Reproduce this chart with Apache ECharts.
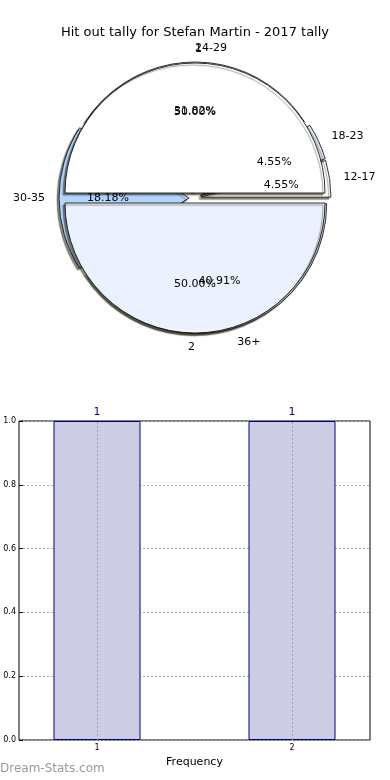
<!DOCTYPE html>
<html>
<head>
<meta charset="utf-8">
<script src="https://cdn.jsdelivr.net/npm/echarts@6/dist/echarts.min.js"></script>
<style>
html,body{margin:0;padding:0;background:#fff;}
#c{width:390px;height:780px;}
</style>
</head>
<body>
<div id="c"></div>
<script>
// ---- data ----
const titleText = 'Hit out tally for Stefan Martin - 2017 tally';
const freqNames = ['1', '2'];
const freqValues = [1, 1];
const ageNames = ['12-17', '18-23', '24-29', '30-35', '36+'];
const ageValues = [1, 1, 7, 4, 9];
const barX = [1, 2];
const barValues = [1, 1];
const yTicks = [0, 0.2, 0.4, 0.6, 0.8, 1.0];
const xTicks = [1, 2];

// ---- styles ----
const freqColors = ['#ffffff', '#ebf1ff'];
const ageColors = ['#ffffff', '#dde6fb', '#ffffff', '#b3d4ff', '#dfe8fa'];
const FONT = 'DejaVu Sans';
const R = 130;
const CENTER = [195, 198];

function pieData(names, values, colors) {
  return names.map((n, i) => ({
    name: n, value: values[i], selected: true,
    itemStyle: colors ? { color: colors[i] } : undefined
  }));
}
const total = arr => arr.reduce((a, b) => a + b, 0);

const baseItem = {
  borderColor: '#000', borderWidth: 0.8,
  shadowColor: 'rgba(40,40,20,0.55)', shadowBlur: 1,
  shadowOffsetX: -2, shadowOffsetY: 2
};

function basePie(names, values, colors, offset, z) {
  return {
    type: 'pie', center: CENTER, radius: [0, R], startAngle: 0, clockwise: false,
    selectedMode: 'multiple', selectedOffset: offset, z: z,
    avoidLabelOverlap: false, silent: true, animation: false,
    label: { show: false }, labelLine: { show: false },
    itemStyle: baseItem,
    select: { itemStyle: { borderColor: '#000', borderWidth: 0.8 } },
    emphasis: { disabled: true },
    data: pieData(names, values, colors)
  };
}

function namePie(names, values, offset) {
  return {
    type: 'pie', center: CENTER, radius: [0, R], startAngle: 0, clockwise: false,
    selectedMode: 'multiple', selectedOffset: offset, z: 10,
    avoidLabelOverlap: false, silent: true, animation: false,
    labelLayout: { hideOverlap: false },
    itemStyle: { color: 'rgba(0,0,0,0)', borderWidth: 0 },
    select: { itemStyle: { color: 'rgba(0,0,0,0)', borderWidth: 0 } },
    emphasis: { disabled: true },
    label: { show: true, position: 'outside', color: '#000', fontFamily: FONT, fontSize: 11,
      distanceToLabelLine: 0, formatter: '{b}' },
    labelLine: { show: false, length: 14, length2: 0 },
    data: pieData(names, values)
  };
}

function pctPie(names, values, offset) {
  const t = total(values);
  return {
    type: 'pie', center: CENTER, radius: [0, R * 1.2], startAngle: 0, clockwise: false,
    selectedMode: 'multiple', selectedOffset: offset, z: 11,
    avoidLabelOverlap: false, silent: true, animation: false,
    labelLayout: { hideOverlap: false },
    itemStyle: { color: 'rgba(0,0,0,0)', borderWidth: 0 },
    select: { itemStyle: { color: 'rgba(0,0,0,0)', borderWidth: 0 } },
    emphasis: { disabled: true },
    label: { show: true, position: 'inside', color: '#000', fontFamily: FONT, fontSize: 11,
      formatter: p => (p.value / t * 100).toFixed(2) + '%' },
    labelLine: { show: false },
    data: pieData(names, values)
  };
}

const chart = echarts.init(document.getElementById('c'), null, { renderer: 'canvas' });
chart.setOption({
  animation: false,
  backgroundColor: '#fff',
  title: {
    text: titleText, left: 'center', top: 21,
    textStyle: { fontFamily: FONT, fontSize: 13, fontWeight: 'normal', color: '#000' }
  },
  graphic: [{
    type: 'text', left: 0, top: 763,
    style: { text: 'Dream-Stats.com', fill: '#999999', font: '12px "DejaVu Sans"' }
  }],
  grid: {
    left: 19, right: 20, top: 421, bottom: 40, show: true,
    borderColor: '#000', borderWidth: 1, backgroundColor: 'transparent'
  },
  xAxis: {
    type: 'value', min: 0.6, max: 2.4,
    name: 'Frequency', nameLocation: 'middle', nameGap: 17,
    nameTextStyle: { fontFamily: FONT, fontSize: 11, color: '#000' },
    axisLine: { show: false },
    axisTick: { show: true, inside: true, length: 4, customValues: xTicks, lineStyle: { color: '#000' } },
    axisLabel: { customValues: xTicks, fontFamily: FONT, fontSize: 8, color: '#000', margin: 4,
      formatter: v => String(v) },
    splitLine: { show: false }
  },
  yAxis: {
    type: 'value', min: 0, max: 1, interval: 0.2,
    axisLine: { show: false },
    axisTick: { show: true, inside: true, length: 4, lineStyle: { color: '#000' } },
    axisLabel: { fontFamily: FONT, fontSize: 8, color: '#000', margin: 3,
      formatter: v => v.toFixed(1) },
    splitLine: { show: true, lineStyle: { color: '#b0b0b0', type: [2, 2], width: 1 } }
  },
  series: [
    basePie(ageNames, ageValues, ageColors, 6, 1),
    basePie(freqNames, freqValues, freqColors, 5, 2),
    namePie(ageNames, ageValues, 6),
    namePie(freqNames, freqValues, 5),
    pctPie(ageNames, ageValues, 6),
    pctPie(freqNames, freqValues, 5),
    {
      type: 'bar', z: 3,
      data: barX.map((x, i) => [x, barValues[i]]),
      barWidth: 87,
      itemStyle: { color: '#ccccE5', borderColor: '#000080', borderWidth: 1 },
      label: { show: true, position: 'top', distance: 3, color: '#000080',
        fontFamily: FONT, fontSize: 11, formatter: p => String(p.value[1]) },
      emphasis: { disabled: true },
      markLine: {
        silent: true, symbol: 'none', label: { show: false },
        lineStyle: { color: '#a0a0a0', type: [2, 2], width: 1 },
        emphasis: { disabled: true },
        data: xTicks.map(v => ({ xAxis: v }))
      }
    }
  ]
});
</script>
</body>
</html>
